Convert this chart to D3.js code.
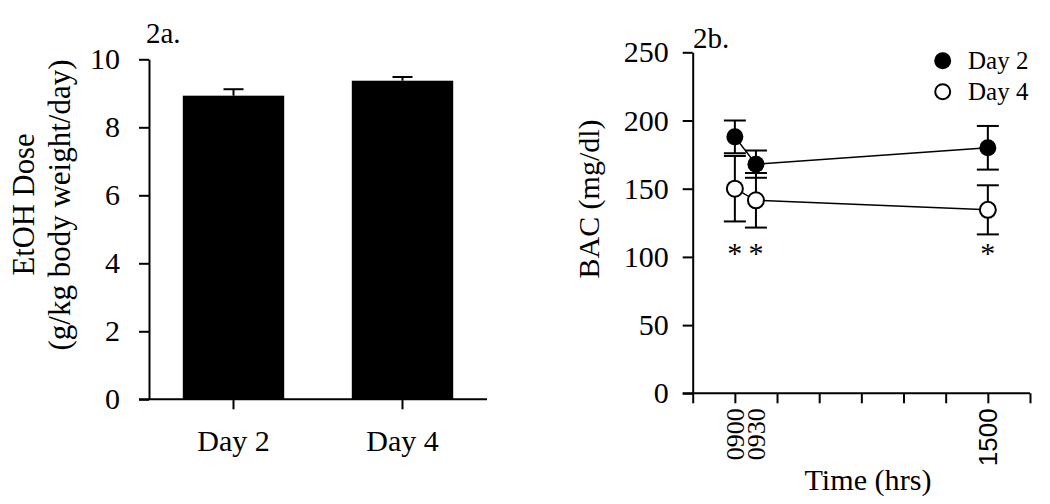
<!DOCTYPE html>
<html>
<head>
<meta charset="utf-8">
<script src="https://cdn.jsdelivr.net/npm/d3@7"></script>
<style>
  html, body { margin: 0; padding: 0; background: #fff; }
  svg { display: block; }
  text { font-family: "Liberation Serif", "Times New Roman", serif; fill: #000; }
</style>
</head>
<body>
<svg id="chart" width="1050" height="504"></svg>
<script>
// ---------- Data ----------
// Panel 2a
const doseCategories = ["Day 2", "Day 4"];
const doseMeans = [8.93, 9.37];
const doseErrors = [0.19, 0.11];
const doseTicks = [0, 2, 4, 6, 8, 10];

// Panel 2b
const timeHours = [9, 9.5, 15];
const timeTickValues = [8, 9, 10, 11, 12, 13, 14, 15, 16];
const timeLabelValues = [9, 9.5, 15];
const timeLabels = ["0900", "0930", "1500"];
const day2BAC = [188, 168, 180];
const day2Err = [12, 10, 16];
const day4BAC = [150, 141.5, 134.5];
const day4Err = [24, 20, 18];
const bacTicks = [0, 50, 100, 150, 200, 250];
const sigTimes = [9, 9.5, 15];
const sigLevel = 106;
const seriesNames = ["Day 2", "Day 4"];

// ---------- Setup ----------
const svg = d3.select("#chart");
const AX = 2;

function fitText(sel, base, target) {
  sel.style("font-size", base + "px");
  const len = sel.node().getComputedTextLength();
  if (len > 0) sel.style("font-size", (base * target / len).toFixed(2) + "px");
  return sel;
}

// ===== Panel 2a =====
const a = { left: 149, right: 487, top: 59.3, bottom: 399.3 };
const xA = d3.scaleBand().domain(doseCategories).range([a.left, a.right])
  .paddingInner(0.4).paddingOuter(0.2);
const yA = d3.scaleLinear().domain([0, 10]).range([a.bottom, a.top]);

const gA = svg.append("g");
gA.selectAll("rect.bar").data(doseCategories).enter().append("rect")
  .attr("x", d => xA(d)).attr("width", xA.bandwidth())
  .attr("y", (d, i) => yA(doseMeans[i]))
  .attr("height", (d, i) => yA(0) - yA(doseMeans[i]))
  .attr("fill", "#000");
doseCategories.forEach((c, i) => {
  const cx = xA(c) + xA.bandwidth() / 2;
  gA.append("line").attr("x1", cx).attr("x2", cx)
    .attr("y1", yA(doseMeans[i])).attr("y2", yA(doseMeans[i] + doseErrors[i]))
    .attr("stroke", "#000").attr("stroke-width", AX);
  gA.append("line").attr("x1", cx - 10).attr("x2", cx + 10)
    .attr("y1", yA(doseMeans[i] + doseErrors[i])).attr("y2", yA(doseMeans[i] + doseErrors[i]))
    .attr("stroke", "#000").attr("stroke-width", AX);
});
const yAxisA = gA.append("g").attr("transform", `translate(${a.left},0)`)
  .call(d3.axisLeft(yA).tickValues(doseTicks).tickSize(10).tickSizeOuter(0).tickPadding(19));
const xAxisA = gA.append("g").attr("transform", `translate(0,${a.bottom})`)
  .call(d3.axisBottom(xA).tickSize(10).tickSizeOuter(0).tickPadding(20));
gA.append("line").attr("x1", a.left - 10).attr("x2", a.right)
  .attr("y1", a.bottom).attr("y2", a.bottom).attr("stroke", "#000").attr("stroke-width", AX);
[yAxisA, xAxisA].forEach(g => {
  g.selectAll("path.domain").attr("stroke", "#000").attr("stroke-width", AX);
  g.selectAll(".tick line").attr("stroke", "#000").attr("stroke-width", AX);
  g.selectAll(".tick text").style("font-family", "Liberation Serif").style("font-size", "30px").attr("fill", "#000");
});
xAxisA.select("path.domain").remove();
gA.append("text").attr("transform", `translate(34,204.5) rotate(-90)`)
  .attr("text-anchor", "middle").text("EtOH Dose").call(fitText, 30, 142);
gA.append("text").attr("transform", `translate(70,205) rotate(-90)`)
  .attr("text-anchor", "middle").text("(g/kg body weight/day)").call(fitText, 30, 291);
gA.append("text").attr("x", 146).attr("y", 43).style("font-size", "29px").text("2a.");

// ===== Panel 2b =====
const b = { left: 692.7, right: 1030, top: 52.3, bottom: 393.3 };
const xB = d3.scaleLinear().domain([8, 16]).range([b.left, b.right]);
const yB = d3.scaleLinear().domain([0, 250]).range([b.bottom, b.top]);
const gB = svg.append("g");

const yAxisB = gB.append("g").attr("transform", `translate(${b.left},0)`)
  .call(d3.axisLeft(yB).tickValues(bacTicks).tickSize(10).tickSizeOuter(0).tickPadding(14));
const xAxisB = gB.append("g").attr("transform", `translate(0,${b.bottom})`)
  .call(d3.axisBottom(xB).tickValues(timeTickValues).tickSize(10).tickSizeOuter(0)
    .tickFormat(() => ""));
gB.append("line").attr("x1", b.left - 10).attr("x2", b.right)
  .attr("y1", b.bottom).attr("y2", b.bottom).attr("stroke", "#000").attr("stroke-width", AX);
[yAxisB, xAxisB].forEach(g => {
  g.selectAll("path.domain").attr("stroke", "#000").attr("stroke-width", AX);
  g.selectAll(".tick line").attr("stroke", "#000").attr("stroke-width", AX);
  g.selectAll(".tick text").style("font-family", "Liberation Serif").style("font-size", "30px").attr("fill", "#000");
});
xAxisB.select("path.domain").remove();

gB.selectAll("text.tlab").data(timeLabelValues).enter().append("text")
  .attr("class", "tlab")
  .attr("transform", d => `translate(${xB(d)},${b.bottom + 15}) rotate(-90)`)
  .attr("text-anchor", "end").attr("dy", "0.35em")
  .style("font-size", "26px")
  .style("font-family", (d, i) => timeLabels[i] === "1500" ? "Liberation Sans" : "Liberation Serif")
  .text((d, i) => timeLabels[i]);

const lineGen = d3.line().x((d, i) => xB(timeHours[i])).y(d => yB(d));
gB.append("path").datum(day2BAC).attr("d", lineGen).attr("fill", "none").attr("stroke", "#000").attr("stroke-width", 1.5);
gB.append("path").datum(day4BAC).attr("d", lineGen).attr("fill", "none").attr("stroke", "#000").attr("stroke-width", 1.5);

function errBars(vals, errs) {
  vals.forEach((v, i) => {
    const cx = xB(timeHours[i]);
    gB.append("line").attr("x1", cx).attr("x2", cx).attr("y1", yB(v - errs[i])).attr("y2", yB(v + errs[i]))
      .attr("stroke", "#000").attr("stroke-width", AX);
    [v - errs[i], v + errs[i]].forEach(e => {
      gB.append("line").attr("x1", cx - 11).attr("x2", cx + 11).attr("y1", yB(e)).attr("y2", yB(e))
        .attr("stroke", "#000").attr("stroke-width", AX);
    });
  });
}
errBars(day4BAC, day4Err);
errBars(day2BAC, day2Err);

gB.selectAll("circle.d4").data(day4BAC).enter().append("circle")
  .attr("cx", (d, i) => xB(timeHours[i])).attr("cy", d => yB(d)).attr("r", 8)
  .attr("fill", "#fff").attr("stroke", "#000").attr("stroke-width", 2);
gB.selectAll("circle.d2").data(day2BAC).enter().append("circle")
  .attr("cx", (d, i) => xB(timeHours[i])).attr("cy", d => yB(d)).attr("r", 8.5)
  .attr("fill", "#000");

gB.selectAll("text.sig").data(sigTimes).enter().append("text")
  .attr("x", d => xB(d)).attr("y", yB(sigLevel)).attr("dy", "0.47em")
  .attr("text-anchor", "middle").style("font-size", "30px").text("*");

gB.append("text").attr("transform", `translate(599,199) rotate(-90)`)
  .attr("text-anchor", "middle").text("BAC (mg/dl)").call(fitText, 30, 159);
gB.append("text").attr("x", 868).attr("y", 490).attr("text-anchor", "middle")
  .text("Time (hrs)").call(fitText, 30, 127);
gB.append("text").attr("x", 693).attr("y", 48).style("font-size", "29px").text("2b.");

const legend = gB.append("g");
seriesNames.forEach((name, i) => {
  const cy = 60.7 + i * 31;
  legend.append("circle").attr("cx", 942.7).attr("cy", cy).attr("r", i === 0 ? 8.5 : 7.5)
    .attr("fill", i === 0 ? "#000" : "#fff").attr("stroke", "#000").attr("stroke-width", i === 0 ? 0 : 2);
  legend.append("text").attr("x", 968).attr("y", cy + 8).style("font-size", "25px").text(name);
});
</script>
</body>
</html>
